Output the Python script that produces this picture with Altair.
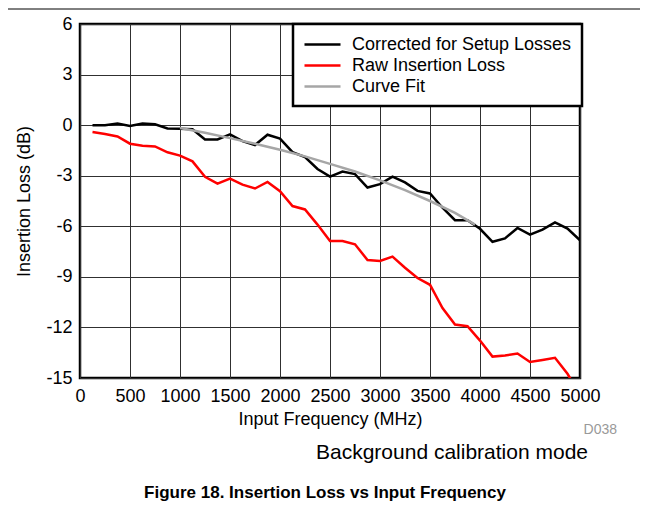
import altair as alt
import pandas as pd

freq = [125, 250, 375, 500, 625, 750, 875, 1000, 1125, 1250,
        1375, 1500, 1625, 1750, 1875, 2000, 2125, 2250, 2375, 2500,
        2625, 2750, 2875, 3000, 3125, 3250, 3375, 3500, 3625, 3750,
        3875, 4000, 4125, 4250, 4375, 4500, 4625, 4750, 4875, 5000]

corrected = [0.0, 0.0, 0.1, -0.05, 0.1, 0.05, -0.2, -0.22, -0.25, -0.85,
             -0.85, -0.55, -0.95, -1.18, -0.57, -0.8, -1.6, -1.9, -2.6, -3.05,
             -2.75, -2.9, -3.7, -3.5, -3.05, -3.4, -3.9, -4.05, -4.9, -5.64,
             -5.64, -6.15, -6.92, -6.72, -6.1, -6.5, -6.2, -5.77, -6.14, -6.83]

raw = [-0.41, -0.53, -0.67, -1.1, -1.22, -1.26, -1.61, -1.81, -2.15, -3.07,
       -3.47, -3.17, -3.53, -3.76, -3.37, -3.92, -4.8, -5.0, -5.9, -6.87,
       -6.87, -7.07, -8.0, -8.06, -7.8, -8.46, -9.07, -9.47, -10.85, -11.83,
       -11.93, -12.78, -13.73, -13.67, -13.55, -14.05, -13.93, -13.8, -14.75, -16.0]

fit_freq = [1000, 1250, 1500, 1750, 2000, 2250, 2500, 2750, 3000, 3250,
            3500, 3750, 3950]
fit = [-0.17, -0.45, -0.77, -1.1, -1.46, -1.85, -2.3, -2.75, -3.28, -3.85,
       -4.5, -5.2, -5.9]

series_names = ["Corrected for Setup Losses", "Raw Insertion Loss", "Curve Fit"]
series_colors = ["#000000", "#ff0000", "#a6a6a6"]

x_ticks = [0, 500, 1000, 1500, 2000, 2500, 3000, 3500, 4000, 4500, 5000]
y_ticks = [-15, -12, -9, -6, -3, 0, 3, 6]

note_text = ["D038"]
mode_text = ["Background calibration mode"]
caption_text = ["Figure 18. Insertion Loss vs Input Frequency"]

FONT = "Liberation Sans"

rows = []
for f, v in zip(freq, raw):
    rows.append({"freq": f, "loss": v, "series": series_names[1], "ord": 0})
for f, v in zip(freq, corrected):
    rows.append({"freq": f, "loss": v, "series": series_names[0], "ord": 1})
for f, v in zip(fit_freq, fit):
    rows.append({"freq": f, "loss": v, "series": series_names[2], "ord": 2})
df = pd.DataFrame(rows)

W, H = 500, 354

lines = alt.Chart(df).mark_line(strokeWidth=2.5, clip=True).encode(
    x=alt.X("freq:Q",
            scale=alt.Scale(domain=[0, 5000], nice=False),
            axis=alt.Axis(values=x_ticks, title="Input Frequency (MHz)",
                          labelExpr="'' + datum.value", labelOverlap=False,
                          labelFlush=False,
                          titlePadding=5, labelPadding=9)),
    y=alt.Y("loss:Q",
            scale=alt.Scale(domain=[-15, 6], nice=False, zero=False),
            axis=alt.Axis(values=y_ticks, title="Insertion Loss (dB)",
                          labelExpr="'' + datum.value", labelOverlap=False,
                          labelFlush=False,
                          titlePadding=12, labelPadding=8)),
    color=alt.Color("series:N",
                    scale=alt.Scale(domain=series_names, range=series_colors),
                    legend=alt.Legend(title=None, orient="none",
                                      legendX=213, legendY=0,
                                      symbolType="M-2,0H2", symbolSize=324,
                                      symbolStrokeWidth=2.5, symbolOffset=9,
                                      labelFontSize=18, labelFont=FONT,
                                      labelColor="black", labelOffset=19,
                                      rowPadding=1, padding=10,
                                      strokeColor="black", fillColor="white",
                                      labelLimit=400)),
    detail="ord:N",
    order="ord:Q",
)

top_rule = alt.Chart(pd.DataFrame({"a": [0]})).mark_rule(
    color="black", strokeWidth=1, clip=False
).encode(x=alt.value(-72), x2=alt.value(561), y=alt.value(-15))

note = alt.Chart(pd.DataFrame({"t": note_text})).mark_text(
    font=FONT, fontSize=14, color="#999999", align="right", baseline="middle"
).encode(x=alt.value(537), y=alt.value(406), text="t:N")

mode = alt.Chart(pd.DataFrame({"t": mode_text})).mark_text(
    font=FONT, fontSize=21, color="black", align="right", baseline="middle"
).encode(x=alt.value(508), y=alt.value(429), text="t:N")

caption = alt.Chart(pd.DataFrame({"t": caption_text})).mark_text(
    font=FONT, fontSize=17, fontWeight="bold", color="black",
    align="center", baseline="middle"
).encode(x=alt.value(245), y=alt.value(469), text="t:N")

chart = alt.layer(lines, top_rule, note, mode, caption).properties(
    width=W, height=H,
    autosize=alt.AutoSizeParams(type="none"),
    padding={"left": 72, "top": 16, "right": 60, "bottom": 127},
).configure_view(
    stroke="black", strokeWidth=2.5
).configure_axis(
    grid=True, gridColor="#303030", gridWidth=1, gridOpacity=1,
    ticks=False, domain=False,
    labelFont=FONT, labelFontSize=18, labelColor="black",
    titleFont=FONT, titleFontSize=18, titleFontWeight="normal", titleColor="black",
).configure_legend(
    strokeWidth=2.5
)

chart.save("out.html", embed_options={"renderer": "svg", "actions": False})
